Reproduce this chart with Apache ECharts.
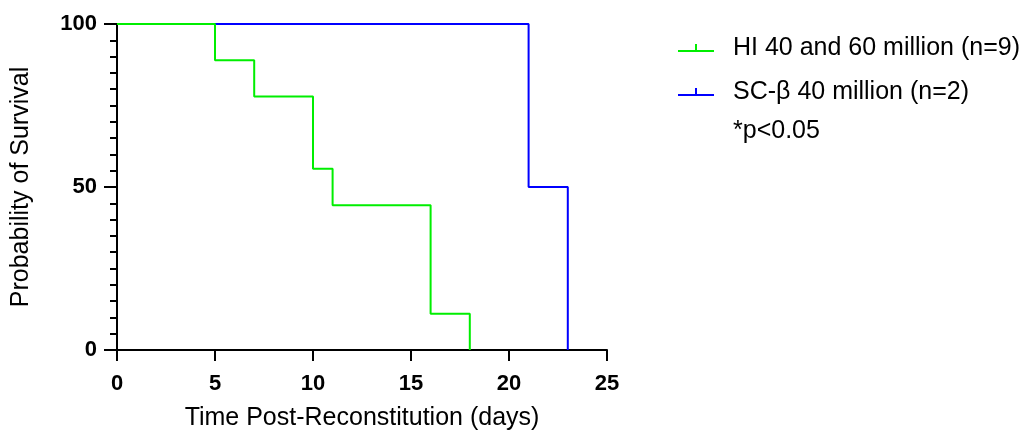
<!DOCTYPE html>
<html>
<head>
<meta charset="utf-8">
<script src="https://cdn.jsdelivr.net/npm/echarts@6/dist/echarts.min.js"></script>
<style>
  html, body { margin: 0; padding: 0; background: #fff; }
  #chart { width: 1035px; height: 436px; }
</style>
</head>
<body>
<div id="chart"></div>
<script>
// survival curves (days, % surviving)
var hiName = 'HI 40 and 60 million (n=9)'
var hiDays = [0, 5, 7, 10, 11, 16, 18]
var hiSurv = [100, 88.89, 77.78, 55.56, 44.44, 11.11, 0]

var scName = 'SC-\u03b2 40 million (n=2)'
var scDays = [0, 21, 23]
var scSurv = [100, 50, 0]

var pText = '*p<0.05'

function pairs(xs, ys) {
  var out = []
  for (var i = 0; i < xs.length; i++) out.push([xs[i], ys[i]])
  return out
}

var font = 'Liberation Sans, Arial, sans-serif'
var chart = echarts.init(document.getElementById('chart'))

// legend mark: short line with a small censor tick in the middle
var tickIcon = 'path://M0,6L36,6L36,8L0,8Z M17,0L19,0L19,6L17,6Z'

chart.setOption({
  animation: false,
  grid: { left: 117, right: 428, top: 24, bottom: 84 },
  legend: {
    left: 673,
    top: 30,
    orient: 'vertical',
    itemWidth: 36,
    itemHeight: 8,
    itemGap: 18,
    data: [
      { name: hiName, icon: tickIcon },
      { name: scName, icon: tickIcon }
    ],
    textStyle: { fontFamily: font, fontSize: 25, color: '#000', padding: [0, 0, 0, 14], lineHeight: 26 }
  },
  graphic: [{
    type: 'text',
    left: 733,
    top: 119,
    style: { text: pText, font: '25px ' + font, fill: '#000' }
  }],
  xAxis: {
    type: 'value',
    min: 0,
    max: 25,
    interval: 5,
    name: 'Time Post-Reconstitution (days)',
    nameLocation: 'middle',
    nameGap: 56,
    nameTextStyle: { fontFamily: font, fontSize: 25, color: '#000' },
    axisLine: { onZero: false, lineStyle: { color: '#000', width: 2 } },
    axisTick: { length: 11, lineStyle: { color: '#000', width: 2 } },
    axisLabel: { margin: 23, fontFamily: font, fontSize: 22, fontWeight: 'bold', color: '#000' },
    splitLine: { show: false }
  },
  yAxis: {
    type: 'value',
    min: 0,
    max: 100,
    interval: 50,
    name: 'Probability of Survival',
    nameLocation: 'middle',
    nameGap: 83,
    nameTextStyle: { fontFamily: font, fontSize: 25, color: '#000' },
    axisLine: { show: true, lineStyle: { color: '#000', width: 2 } },
    axisTick: { show: true, length: 13, lineStyle: { color: '#000', width: 2 } },
    minorTick: { show: true, splitNumber: 10, length: 7, lineStyle: { color: '#000', width: 2 } },
    axisLabel: { margin: 20, fontFamily: font, fontSize: 22, fontWeight: 'bold', color: '#000' },
    splitLine: { show: false }
  },
  series: [
    {
      name: scName,
      type: 'line',
      step: 'end',
      showSymbol: false,
      color: '#0000ff',
      lineStyle: { width: 2, color: '#0000ff' },
      z: 2,
      data: pairs(scDays, scSurv)
    },
    {
      name: hiName,
      type: 'line',
      step: 'end',
      showSymbol: false,
      color: '#00ee00',
      lineStyle: { width: 2, color: '#00ee00' },
      z: 3,
      data: pairs(hiDays, hiSurv)
    }
  ]
})
</script>
</body>
</html>
